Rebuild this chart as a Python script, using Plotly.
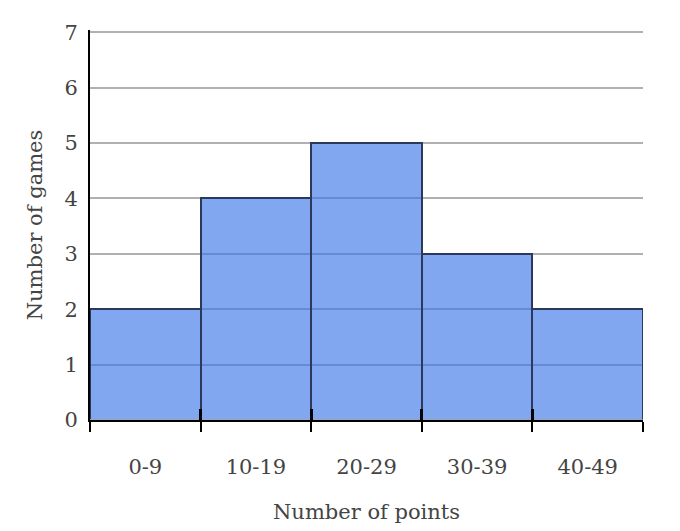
import plotly.graph_objects as go

categories = ["0-9", "10-19", "20-29", "30-39", "40-49"]
games = [2, 4, 5, 3, 2]
y_ticks = [0, 1, 2, 3, 4, 5, 6, 7]

font_family = "DejaVu Serif"
text_color = "#444444"

fig = go.Figure()
fig.add_trace(
    go.Bar(
        x=categories,
        y=games,
        width=1,
        marker=dict(
            color="rgba(60,120,230,0.65)",
            line=dict(color="#2b3a5c", width=2),
        ),
        hoverinfo="skip",
    )
)
# invisible trace to drive a twin x-axis that draws the inside half of the ticks
fig.add_trace(
    go.Bar(
        x=categories,
        y=[0] * len(categories),
        xaxis="x2",
        marker=dict(color="rgba(0,0,0,0)"),
        hoverinfo="skip",
        showlegend=False,
    )
)

fig.update_layout(
    width=680,
    height=531,
    margin=dict(l=82, r=45, t=22, b=119),
    paper_bgcolor="white",
    plot_bgcolor="white",
    showlegend=False,
    bargap=0,
    font=dict(family=font_family, size=21, color=text_color),
    xaxis=dict(
        type="category",
        tickson="boundaries",
        ticks="outside",
        ticklen=10,
        tickwidth=2,
        tickcolor="black",
        showline=True,
        linecolor="black",
        linewidth=2,
        showgrid=False,
        ticklabelstandoff=27,
        tickfont=dict(family=font_family, size=21, color=text_color),
        title=dict(text="Number of points", standoff=26,
                   font=dict(family=font_family, size=21, color=text_color)),
    ),
    xaxis2=dict(
        type="category",
        overlaying="x",
        side="bottom",
        anchor="y",
        layer="above traces",
        tickson="boundaries",
        ticks="inside",
        ticklen=11,
        tickwidth=2.5,
        tickcolor="black",
        showticklabels=False,
        showgrid=False,
        showline=False,
        zeroline=False,
    ),
    yaxis=dict(
        range=[0, 7.04],
        tickvals=y_ticks,
        showline=True,
        linecolor="black",
        linewidth=2,
        showgrid=True,
        gridcolor="#b0b0b0",
        gridwidth=1.5,
        zeroline=False,
        ticks="",
        ticklabelstandoff=6,
        tickfont=dict(family=font_family, size=21, color=text_color),
        title=dict(text="Number of games", standoff=16,
                   font=dict(family=font_family, size=21, color=text_color)),
    ),
)

fig.write_html("out.html")
